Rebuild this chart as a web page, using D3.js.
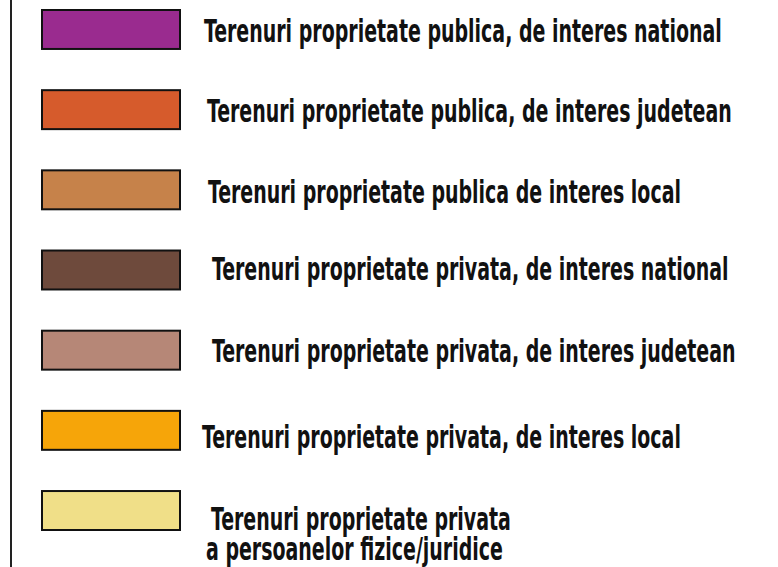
<!DOCTYPE html>
<html><head><meta charset="utf-8">
<script src="https://cdn.jsdelivr.net/npm/d3@7"></script>
<style>html,body{margin:0;padding:0;background:#fff;overflow:hidden}</style>
</head><body>
<svg id="chart" width="778" height="567"></svg>
<script>
const categories = [
  ["Terenuri proprietate publica, de interes national"],
  ["Terenuri proprietate publica, de interes judetean"],
  ["Terenuri proprietate publica de interes local"],
  ["Terenuri proprietate privata, de interes national"],
  ["Terenuri proprietate privata, de interes judetean"],
  ["Terenuri proprietate privata, de interes local"],
  ["Terenuri proprietate privata", "a persoanelor fizice/juridice"]
];
const colors = ["#9a2b8f","#d65b2c","#c6824a","#6e4a3c","#b68777","#f6a509","#f0df88"];

// layout
const textDx = [0, 3, 4, 8, 8, -2, 7];
const textDy = [13, 12.5, 13, 10, 12, 17.5, 0];
const lineDx = [0, -5];

const svg = d3.select("#chart");
const keys = categories.map((c,i)=>i);
const y = d3.scaleBand().domain(keys).range([10, 530]).paddingInner(0.514).paddingOuter(0);

svg.append("line").attr("x1",11).attr("x2",11).attr("y1",0).attr("y2",567)
  .attr("stroke","#222").attr("stroke-width",2);

const g = svg.selectAll("g.item").data(keys).join("g").attr("class","item");
g.append("rect")
  .attr("x",42).attr("y",d=>y(d)).attr("width",138).attr("height",y.bandwidth())
  .attr("fill",d=>colors[d]).attr("stroke","#111").attr("stroke-width",2);

const fontSize = 31.5;
const texts = [];
g.each(function(d){
  const lines = categories[d];
  const cy = y(d) + y.bandwidth()/2;
  lines.forEach((t,j)=>{
    const base = lines.length===1 ? cy + textDy[d] : y(d) + 39 + j*30;
    const x0 = 204 + textDx[d] + (lineDx[j]||0);
    const el = d3.select(this).append("text")
      .attr("font-family","'DejaVu Sans Condensed','DejaVu Sans',sans-serif")
      .attr("font-stretch","condensed")
      .attr("font-size",fontSize).attr("font-weight","bold").attr("fill","#111")
      .datum({x0, base})
      .text(t);
    texts.push(el);
  });
});
const natural = texts[0].node().getComputedTextLength();
const sx = 518 / natural;
texts.forEach(el => {
  const p = el.datum();
  el.attr("transform", `translate(${p.x0},${p.base}) scale(${sx},1)`);
});
</script>
</body></html>
